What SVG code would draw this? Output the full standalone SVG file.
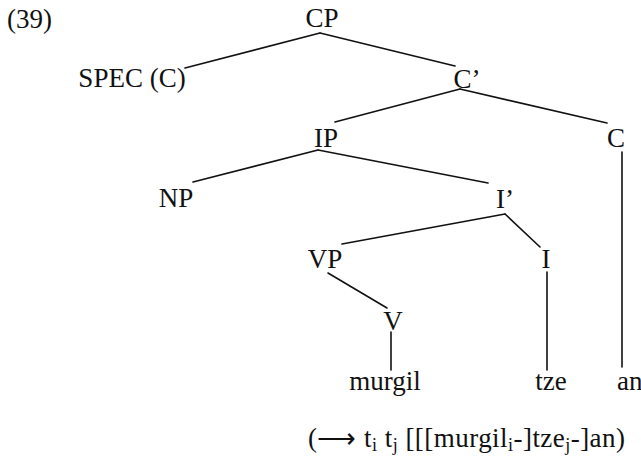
<svg xmlns="http://www.w3.org/2000/svg" width="641" height="462" viewBox="0 0 641 462">
<style>
text{font-family:"Liberation Serif","Times New Roman",serif;font-size:27px;fill:#111;}
.m{text-anchor:middle;}
.s{font-size:18px;}
.e{stroke:#111;stroke-width:1.6;fill:none;stroke-linecap:round;}
</style>
<rect width="641" height="462" fill="#fff"/>
<text id="label39" x="7" y="28">(39)</text>
<g id="connectors">
<line class="e" x1="320" y1="33" x2="185" y2="68"/>
<line class="e" x1="320" y1="33" x2="455" y2="66"/>
<line class="e" x1="460" y1="89" x2="335" y2="122"/>
<line class="e" x1="460" y1="89" x2="607" y2="123"/>
<line class="e" x1="622" y1="152" x2="622" y2="367"/>
<line class="e" x1="318" y1="150" x2="193" y2="182"/>
<line class="e" x1="318" y1="150" x2="488" y2="183"/>
<line class="e" x1="505" y1="214" x2="342" y2="244"/>
<line class="e" x1="505" y1="214" x2="540" y2="247"/>
<line class="e" x1="328" y1="273" x2="387" y2="308"/>
<line class="e" x1="391" y1="332" x2="391" y2="370"/>
<line class="e" x1="547" y1="272" x2="547" y2="370"/>
</g>
<g id="CP"><text class="m" x="322" y="27">CP</text></g>
<g id="SPEC"><text class="m" x="132" y="87">SPEC (C)</text></g>
<g id="Cbar"><text class="m" x="467" y="88">C’</text></g>
<g id="IP"><text class="m" x="326" y="147">IP</text></g>
<g id="C"><text class="m" x="616" y="147">C</text></g>
<g id="NP"><text class="m" x="176" y="207">NP</text></g>
<g id="Ibar"><text class="m" x="505" y="208">I’</text></g>
<g id="VP"><text class="m" x="325" y="268">VP</text></g>
<g id="I"><text class="m" x="546" y="268">I</text></g>
<g id="V"><text class="m" x="393" y="330">V</text></g>
<g id="murgil"><text class="m" x="385" y="390">murgil</text></g>
<g id="tze"><text class="m" x="551" y="390">tze</text></g>
<g id="an"><text x="617" y="390">an</text></g>
<g id="formula"><text x="308" y="447" textLength="317" lengthAdjust="spacing">(⟶ t<tspan class="s" dy="4">i</tspan><tspan dy="-4"> t</tspan><tspan class="s" dy="4">j</tspan><tspan dy="-4"> [[[murgil</tspan><tspan class="s" dy="4">i</tspan><tspan dy="-4">-]tze</tspan><tspan class="s" dy="4">j</tspan><tspan dy="-4">-]an)</tspan></text></g>
</svg>
